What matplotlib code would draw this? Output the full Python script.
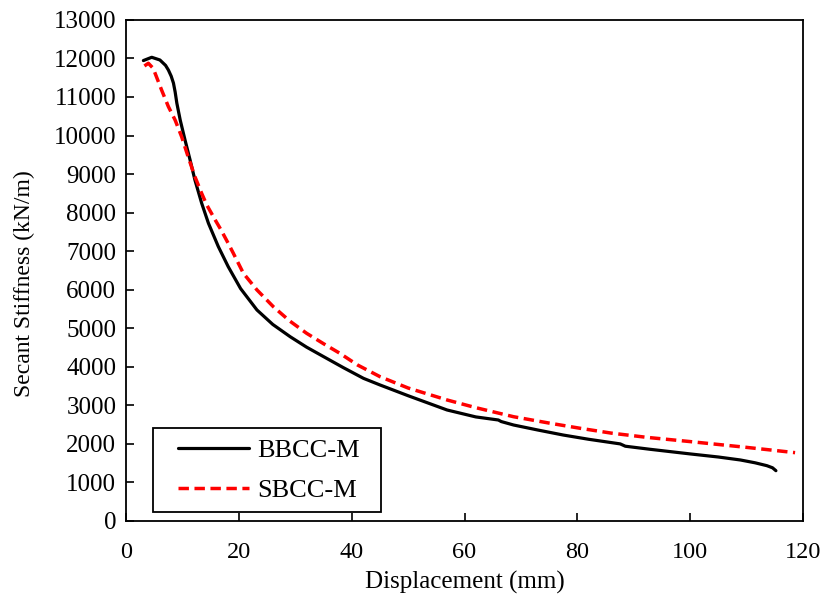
import matplotlib
matplotlib.use('Agg')
import matplotlib.pyplot as plt
from matplotlib.patches import Rectangle

# Данные
bbcc_x = [3.07, 4.55, 6.0, 7.0, 7.5, 8.0, 8.4, 8.7, 9.0, 9.6, 10.45, 11.35, 12.2, 13.4,
          14.6, 16.35, 18.1, 20.3, 23.2, 26.0, 29.1, 32.0, 35.0, 38.5, 42.1, 45.0,
          50.0, 56.9, 62.0, 66.0, 66.5, 68.7, 73.0, 77.5, 82.0, 87.6, 88.5, 92.9,
          100.0, 105.0, 108.9, 111.5, 113.6, 114.6, 115.2]
bbcc_y = [11945, 12030, 11960, 11820, 11700, 11540, 11360, 11130, 10840, 10400, 9885,
          9365, 8850, 8245, 7725, 7120, 6600, 6030, 5475, 5100, 4780, 4510, 4265,
          3980, 3700, 3530, 3250, 2880, 2700, 2620, 2580, 2490, 2360, 2230, 2120,
          2000, 1940, 1860, 1740, 1660, 1583, 1510, 1435, 1380, 1305]

sbcc_x = [3.25, 3.95, 4.8, 6.3, 7.5, 8.7, 9.85, 11.0, 12.2, 13.4, 14.3, 15.8, 16.8,
          18.1, 19.0, 20.8, 23.2, 26.1, 29.0, 32.0, 35.0, 37.9, 41.0, 45.0, 50.0,
          56.9, 62.0, 68.7, 75.0, 80.5, 86.0, 92.3, 100.0, 110.0, 118.6]
sbcc_y = [11805, 11875, 11745, 11180, 10750, 10400, 9970, 9450, 8935, 8500, 8200,
          7810, 7560, 7205, 6950, 6425, 5995, 5560, 5190, 4870, 4600, 4350, 4050,
          3745, 3450, 3140, 2940, 2705, 2540, 2405, 2280, 2170, 2060, 1910, 1773]

x_ticks = [0, 20, 40, 60, 80, 100, 120]
y_ticks = list(range(0, 13001, 1000))

plt.rcParams['font.family'] = ['Liberation Serif', 'DejaVu Serif']

fig = plt.figure(figsize=(8.24, 6.03), dpi=100)
ax = fig.add_axes([0.153, 0.136, 0.8215, 0.831])

ax.plot(bbcc_x, bbcc_y, color='black', lw=2.3, label='BBCC-M', solid_capstyle='round')
ax.plot(sbcc_x, sbcc_y, color='#ff0000', lw=2.5, dashes=(3, 1.6), label='SBCC-M')

ax.set_xlim(0, 120)
ax.set_ylim(0, 13000)
ax.set_xticks(x_ticks)
ax.set_yticks(y_ticks)
ax.tick_params(direction='in', length=6, width=1.2)
ax.tick_params(axis='x', labelsize=17.5, pad=15)
ax.tick_params(axis='y', labelsize=18, pad=7)
for s in ax.spines.values():
    s.set_linewidth(1.3)

ax.set_xlabel('Displacement (mm)', fontsize=18, labelpad=6)
ax.set_ylabel('Secant Stiffness (kN/m)', fontsize=17, labelpad=10)
ax.yaxis.set_label_coords(-0.135, 0.473)

# рамка легенды (отступы у оригинала шире, чем даёт borderpad)
ax.add_patch(Rectangle((0.04, 0.018), 0.337, 0.168, transform=ax.transAxes,
                       facecolor='white', edgecolor='black', lw=1.3, zorder=4))
leg = ax.legend(loc='center left', bbox_to_anchor=(0.077, 0.101), fontsize=19,
                frameon=False, handlelength=2.7, borderpad=0, labelspacing=0.65,
                handletextpad=0.3, borderaxespad=0)
leg.set_zorder(5)

fig.savefig('out.png', dpi=100)
